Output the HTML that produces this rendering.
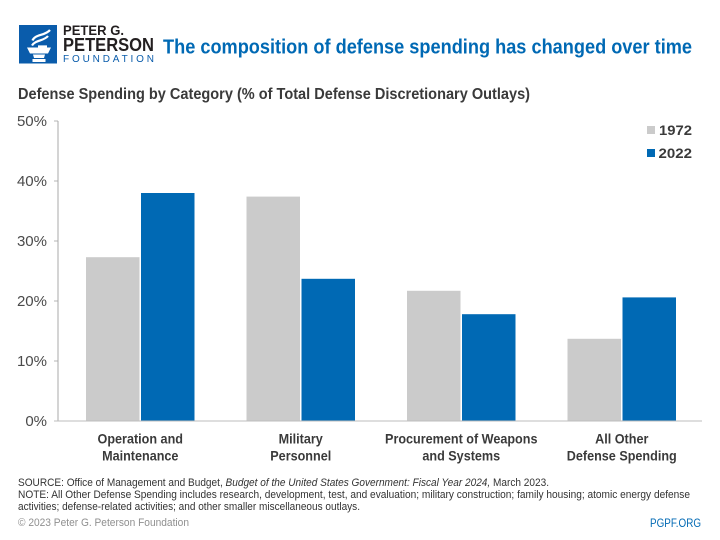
<!DOCTYPE html>
<html lang="en">
<head>
<meta charset="utf-8">
<title>Defense Spending by Category</title>
<style>
html,body{margin:0;padding:0;background:#fff;width:720px;height:540px;overflow:hidden}
svg{display:block;font-family:"Liberation Sans",sans-serif}
</style>
</head>
<body>
<svg id="chart" width="720" height="540" viewBox="0 0 720 540" xmlns="http://www.w3.org/2000/svg">
  <g>
    <rect x="19" y="25" width="38" height="38.500" fill="#0a5cab"/>
    <g>
      <path fill="#fff" d="M27 47.500h24l-3 6h-18z M33 54.500h12l-1 3.500h-10z M32.500 59h13v3h-13z"/>
      <path fill="none" stroke="#fff" stroke-width="2.200" d="M32 45.500C35 40 44 41 48 36 M32.500 40.500C35 34 45 36 50 30 M38 46.500H47"/>
    </g>
    <text x="63" y="35" font-size="14" font-weight="700" fill="#231f20" textLength="61" lengthAdjust="spacingAndGlyphs">PETER G.</text>
    <text x="63" y="51" font-size="18" font-weight="700" fill="#231f20" textLength="91" lengthAdjust="spacingAndGlyphs">PETERSON</text>
    <text x="63" y="62" font-size="10" fill="#0a5cab" textLength="91" lengthAdjust="spacing">FOUNDATION</text>
  </g>
  <text x="163" y="53.500" font-size="20.500" font-weight="700" fill="#0069b4" textLength="529" lengthAdjust="spacingAndGlyphs">The composition of defense spending has changed over time</text>
  <text x="18" y="99" font-size="16" font-weight="700" fill="#3a3a3a" textLength="512" lengthAdjust="spacingAndGlyphs">Defense Spending by Category (% of Total Defense Discretionary Outlays)</text>
  <g id="y-axis"></g>
  <g id="bars"></g>
  <g id="x-axis"></g>
  <g>
    <g>
      <rect x="647" y="126" width="8" height="8" fill="#cbcbcb"/>
      <text x="659" y="135" font-size="14" font-weight="700" fill="#3a3a3a" textLength="33" lengthAdjust="spacingAndGlyphs">1972</text>
    </g>
    <g>
      <rect x="647" y="149" width="8" height="8" fill="#0069b4"/>
      <text x="658.500" y="158" font-size="14" font-weight="700" fill="#3a3a3a" textLength="33.500" lengthAdjust="spacingAndGlyphs">2022</text>
    </g>
  </g>
  <g font-size="11" fill="#333">
    <text x="18" y="486" textLength="531" lengthAdjust="spacingAndGlyphs">SOURCE: Office of Management and Budget, <tspan font-style="italic">Budget of the United States Government: Fiscal Year 2024,</tspan> March 2023.</text>
    <text x="18" y="498" textLength="672" lengthAdjust="spacingAndGlyphs">NOTE: All Other Defense Spending includes research, development, test, and evaluation; military construction; family housing; atomic energy defense</text>
    <text x="18" y="510" textLength="342" lengthAdjust="spacingAndGlyphs">activities; defense-related activities; and other smaller miscellaneous outlays.</text>
  </g>
  <text x="18" y="526" font-size="11" fill="#8f8f8f" textLength="171" lengthAdjust="spacingAndGlyphs">© 2023 Peter G. Peterson Foundation</text>
  <a><text x="650" y="527" font-size="11.500" fill="#0069b4" textLength="51" lengthAdjust="spacingAndGlyphs">PGPF.ORG</text></a>
</svg>
<script>
const categoryLines = [
  ["Operation and", "Maintenance"],
  ["Military", "Personnel"],
  ["Procurement of Weapons", "and Systems"],
  ["All Other", "Defense Spending"]
];
const values1972 = [27.3, 37.4, 21.7, 13.7];
const values2022 = [38.0, 23.7, 17.8, 20.6];
const yTicks = [0, 10, 20, 30, 40, 50];

const NS = "http://www.w3.org/2000/svg";
const plotLeft = 58, plotRight = 702, plotBase = 421, plotTop = 121, yMax = 50;
const groupsLeft = 60, groupsWidth = 642;
const barWidth = 53.5, barGap = 1.5;
const yScale = v => plotBase - (v / yMax) * (plotBase - plotTop);
const groupCenter = i => groupsLeft + groupsWidth * (i + 0.5) / categoryLines.length;
function make(tag, attrs, text) {
  const el = document.createElementNS(NS, tag);
  for (const k in attrs) el.setAttribute(k, attrs[k]);
  if (text !== undefined) el.textContent = text;
  return el;
}
const yAxis = document.getElementById("y-axis");
const barsG = document.getElementById("bars");
const xAxis = document.getElementById("x-axis");

yTicks.forEach(t => {
  const y = yScale(t);
  const tick = make("line", {x1: plotLeft - 4, x2: plotLeft, y1: y, y2: y, stroke: "#b5b5b5", "stroke-width": 1});
  
  
  yAxis.appendChild(tick);
  const label = make("text", {x: 47, y: y + 5, "text-anchor": "end", "font-size": 15, fill: "#4a4a4a"}, t + "%");
  
  
  yAxis.appendChild(label);
});
const yLine = make("line", {x1: plotLeft, x2: plotLeft, y1: plotTop, y2: plotBase, stroke: "#a8a8a8", "stroke-width": 1});


yAxis.appendChild(yLine);

categoryLines.forEach((lines, i) => {
  const c = groupCenter(i);
  const a = make("rect", {x: c - barGap / 2 - barWidth, y: yScale(values1972[i]), width: barWidth, height: plotBase - yScale(values1972[i]), fill: "#cbcbcb"});
  
  
  barsG.appendChild(a);
  const b = make("rect", {x: c + barGap / 2, y: yScale(values2022[i]), width: barWidth, height: plotBase - yScale(values2022[i]), fill: "#0069b4"});
  
  
  barsG.appendChild(b);
  lines.forEach((line, j) => {
    const t = make("text", {transform: "translate(" + c + "," + (443.500 + j * 17) + ") scale(0.935,1)", "text-anchor": "middle", "font-size": 13.5, "font-weight": 700, fill: "#3a3a3a"}, line);
    
    
    xAxis.appendChild(t);
  });
});
const xLine = make("line", {x1: plotLeft - 4, x2: plotRight, y1: plotBase, y2: plotBase, stroke: "#bdbdbd", "stroke-width": 1});


xAxis.appendChild(xLine);
</script>
</body>
</html>
